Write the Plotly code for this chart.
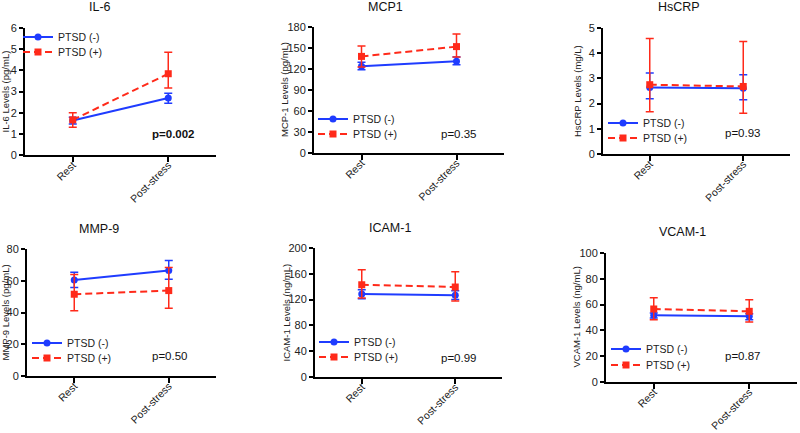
import plotly.graph_objects as go

# ---------------- data ----------------
timepoints = ["Rest", "Post-stress"]
series_names = ["PTSD (-)", "PTSD (+)"]

panel_titles = ["IL-6", "MCP1", "HsCRP", "MMP-9", "ICAM-1", "VCAM-1"]
y_labels = ["IL-6 Levels (pg/mL)", "MCP-1 Levels (pg/mL)", "HsCRP Levels (mg/L)",
            "MMP-9 Levels (pg/mL)", "ICAM-1 Levels (ng/mL)", "VCAM-1 Levels (ng/mL)"]
p_values = ["p=0.002", "p=0.35", "p=0.93", "p=0.50", "p=0.99", "p=0.87"]
y_max = [6, 180, 5, 80, 200, 100]
y_dtick = [1, 30, 1, 20, 40, 20]

# PTSD (-) means and error bar ends (upper, lower)
neg_mean = [[1.63, 2.69], [124, 131], [2.64, 2.61], [60.5, 66.5], [128.7, 126.6], [51.7, 50.9]]
neg_upper = [[1.78, 2.92], [129.5, 137], [3.21, 3.14], [65.4, 72.8], [135.4, 133.8], [53.5, 53.0]]
neg_lower = [[1.47, 2.45], [119, 126], [2.19, 2.15], [55.7, 61.0], [121.4, 120.0], [49.6, 48.3]]

# PTSD (+) means and error bar ends (upper, lower)
pos_mean = [[1.66, 3.84], [138, 152], [2.75, 2.68], [51.5, 53.8], [143.0, 139.5], [56.6, 54.8]]
pos_upper = [[2.00, 4.85], [153, 170], [4.58, 4.46], [64.0, 68.4], [166.4, 163.0], [65.4, 63.8]]
pos_lower = [[1.31, 3.16], [123, 137], [1.68, 1.62], [41.1, 42.6], [122.5, 118.0], [48.3, 46.5]]

# ---------------- layout geometry (pixels) ----------------
W, H = 800, 433
# x0, x1 (axis extents), ytop, ybot
boxes = [
    (25, 216, 28, 155),
    (314, 504, 27, 153),
    (603, 790, 28, 154),
    (27, 216, 249, 376),
    (315, 502, 248, 377),
    (606, 797, 253, 382),
]
title_pos = [(100, 7), (385, 7), (679, 7), (99, 229), (390, 228), (682, 232)]
ylab_x = [5, 285, 577, 5, 286, 576]
# legend text left x, centre y of first and second entry
legend_text_x = [58, 353, 643, 67, 354, 646]
legend_rows = [(37, 52), (119, 134), (123, 138), (343, 358), (342, 357), (349, 365)]
p_pos = [(173, 134), (459, 134), (743, 133), (170, 356), (459, 358), (743, 356)]

BLUE = "#1f3cff"
RED = "#ff2a1a"
FONT = "Liberation Sans, Arial, Helvetica, sans-serif"


def px(x):
    return x / W


def py(y):
    return 1 - y / H


fig = go.Figure()
annotations = []
layout_axes = {}
leg_count = 0

for i in range(6):
    n = i + 1
    xa = "x" if n == 1 else f"x{n}"
    ya = "y" if n == 1 else f"y{n}"
    for s, (mean, up, lo, color, dash, symbol) in enumerate([
        (neg_mean[i], neg_upper[i], neg_lower[i], BLUE, "solid", "circle"),
        (pos_mean[i], pos_upper[i], pos_lower[i], RED, "7px,4px", "square"),
    ]):
        leg_count += 1
        leg = "legend" if leg_count == 1 else f"legend{leg_count}"
        fig.add_trace(go.Scatter(
            x=timepoints, y=mean,
            mode="lines+markers",
            name=series_names[s],
            showlegend=True,
            line=dict(color=color, width=2, dash=dash),
            marker=dict(color=color, symbol=symbol, size=7),
            error_y=dict(type="data", symmetric=False,
                         array=[u - m for u, m in zip(up, mean)],
                         arrayminus=[m - l for m, l in zip(mean, lo)],
                         color=color, thickness=1.5, width=4),
            xaxis=xa, yaxis=ya, legend=leg,
        ))
        layout_axes[leg] = dict(
            x=px(legend_text_x[i] - 40), y=py(legend_rows[i][s]),
            xanchor="left", yanchor="middle",
            bgcolor="rgba(0,0,0,0)", font=dict(size=10.5, color="#222", family=FONT),
            itemwidth=30,
        )

    x0, x1, yt, yb = boxes[i]
    layout_axes["xaxis" if n == 1 else f"xaxis{n}"] = dict(
        domain=[px(x0), px(x1)], anchor=ya, type="category", automargin=False,
        range=[-0.5, 1.5], showline=True, linewidth=2, linecolor="black",
        ticks="outside", ticklen=5, tickwidth=2, tickcolor="black",
        tickangle=-45, ticklabelstandoff=-7, showgrid=False, zeroline=False,
        tickfont=dict(size=10.5, color="#222", family=FONT),
    )
    layout_axes["yaxis" if n == 1 else f"yaxis{n}"] = dict(
        domain=[py(yb), py(yt)], anchor=xa, range=[0, y_max[i]], automargin=False,
        dtick=y_dtick[i], showline=True, linewidth=2, linecolor="black",
        ticks="outside", ticklen=4, tickwidth=1.5, tickcolor="black",
        showgrid=False, zeroline=False,
        tickfont=dict(size=11, color="#222", family=FONT),
    )
    tx, ty = title_pos[i]
    annotations.append(dict(text=panel_titles[i], x=px(tx), y=py(ty), xref="paper", yref="paper",
                            xanchor="center", yanchor="middle", showarrow=False,
                            font=dict(size=12.5, color="#111", family=FONT)))
    annotations.append(dict(text=y_labels[i], x=px(ylab_x[i]), y=py((yt + yb) / 2),
                            xref="paper", yref="paper", textangle=-90,
                            xanchor="center", yanchor="middle", showarrow=False,
                            font=dict(size=9.5, color="#222", family=FONT)))
    ptxt = f"<b>{p_values[i]}</b>" if i == 0 else p_values[i]
    ppx, ppy = p_pos[i]
    annotations.append(dict(text=ptxt, x=px(ppx), y=py(ppy), xref="paper", yref="paper",
                            xanchor="center", yanchor="middle", showarrow=False,
                            font=dict(size=11.5, color="#111", family=FONT)))

fig.update_layout(
    width=W, height=H,
    margin=dict(l=0, r=0, t=0, b=0, autoexpand=False),
    paper_bgcolor="white", plot_bgcolor="white",
    font=dict(family=FONT),
    showlegend=True,
    annotations=annotations,
    **layout_axes,
)

fig.write_html("out.html",
               config={"displayModeBar": False},
               post_script="document.body.style.margin='0';document.body.style.overflow='hidden';")
